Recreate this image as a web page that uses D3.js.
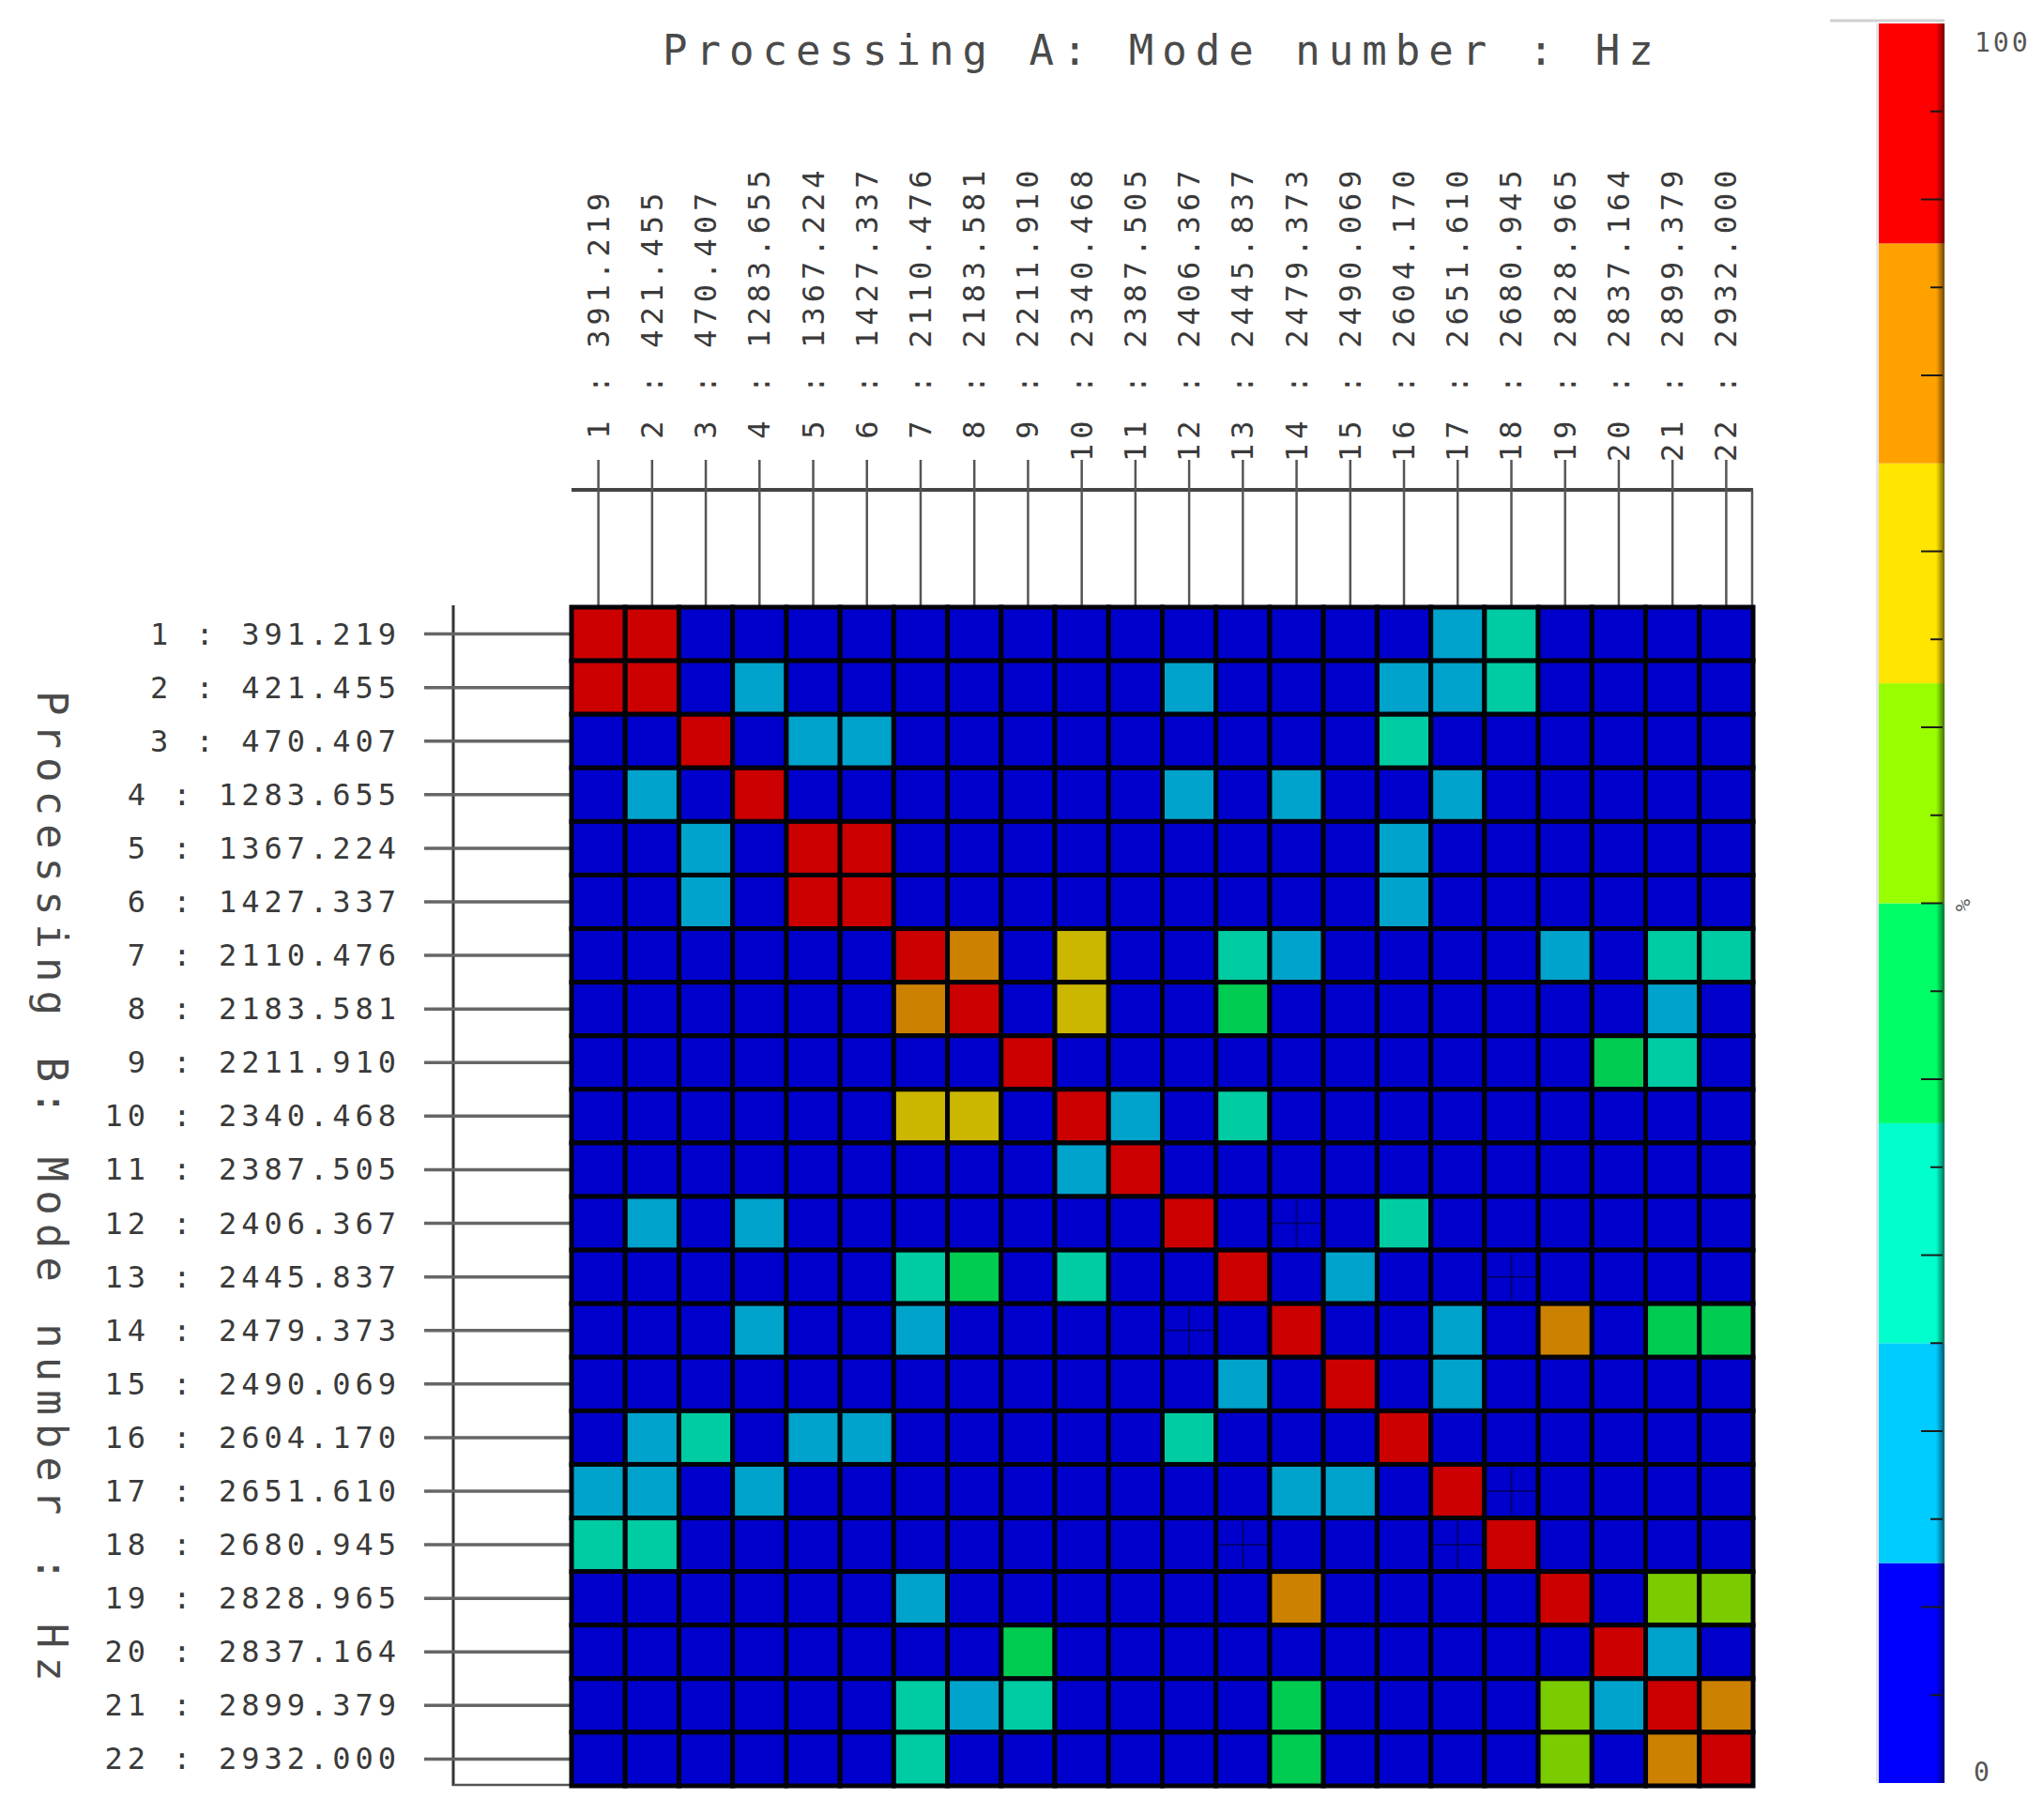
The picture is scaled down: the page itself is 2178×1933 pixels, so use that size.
<!DOCTYPE html>
<html>
<head>
<meta charset="utf-8">
<script src="https://cdn.jsdelivr.net/npm/d3@7"></script>
<style>
  html, body { margin: 0; padding: 0; background: #fff; }
  svg { display: block; }
  text { font-family: "DejaVu Sans Mono", "Liberation Mono", monospace; }
</style>
</head>
<body>
<script>
// ---------------- DATA ----------------
const modesA = [1,2,3,4,5,6,7,8,9,10,11,12,13,14,15,16,17,18,19,20,21,22];
const freqsA = ["391.219","421.455","470.407","1283.655","1367.224","1427.337","2110.476","2183.581","2211.910","2340.468","2387.505","2406.367","2445.837","2479.373","2490.069","2604.170","2651.610","2680.945","2828.965","2837.164","2899.379","2932.000"];
const modesB = [1,2,3,4,5,6,7,8,9,10,11,12,13,14,15,16,17,18,19,20,21,22];
const freqsB = ["391.219","421.455","470.407","1283.655","1367.224","1427.337","2110.476","2183.581","2211.910","2340.468","2387.505","2406.367","2445.837","2479.373","2490.069","2604.170","2651.610","2680.945","2828.965","2837.164","2899.379","2932.000"];

// MAC values (%) : rows = Processing B modes, columns = Processing A modes
const macValues = [
  [100,96,2,2,2,2,2,2,2,2,2,2,2,2,2,2,20,32,2,2,2,2],
  [96,100,2,20,2,2,2,2,2,2,2,20,2,2,2,20,20,32,2,2,2,2],
  [2,2,100,2,20,20,2,2,2,2,2,2,2,2,2,32,2,2,2,2,2,2],
  [2,20,2,100,2,2,2,2,2,2,2,20,2,20,2,2,20,2,2,2,2,2],
  [2,2,20,2,100,96,2,2,2,2,2,2,2,2,2,20,2,2,2,2,2,2],
  [2,2,20,2,96,100,2,2,2,2,2,2,2,2,2,20,2,2,2,2,2,2],
  [2,2,2,2,2,2,100,80,2,70,2,2,32,20,2,2,2,2,20,2,32,32],
  [2,2,2,2,2,2,80,100,2,70,2,2,45,2,2,2,2,2,2,2,20,2],
  [2,2,2,2,2,2,2,2,100,2,2,2,2,2,2,2,2,2,2,45,32,2],
  [2,2,2,2,2,2,70,70,2,100,20,2,32,2,2,2,2,2,2,2,2,2],
  [2,2,2,2,2,2,2,2,2,20,100,2,2,2,2,2,2,2,2,2,2,2],
  [2,20,2,20,2,2,2,2,2,2,2,100,2,6,2,32,2,2,2,2,2,2],
  [2,2,2,2,2,2,32,45,2,32,2,2,100,2,20,2,2,6,2,2,2,2],
  [2,2,2,20,2,2,20,2,2,2,2,6,2,100,2,2,20,2,80,2,45,45],
  [2,2,2,2,2,2,2,2,2,2,2,2,20,2,100,2,20,2,2,2,2,2],
  [2,20,32,2,20,20,2,2,2,2,2,32,2,2,2,100,2,2,2,2,2,2],
  [20,20,2,20,2,2,2,2,2,2,2,2,2,20,20,2,100,6,2,2,2,2],
  [32,32,2,2,2,2,2,2,2,2,2,2,6,2,2,2,6,100,2,2,2,2],
  [2,2,2,2,2,2,20,2,2,2,2,2,2,80,2,2,2,2,100,2,57,57],
  [2,2,2,2,2,2,2,2,45,2,2,2,2,2,2,2,2,2,2,100,20,2],
  [2,2,2,2,2,2,32,20,32,2,2,2,2,45,2,2,2,2,57,20,100,80],
  [2,2,2,2,2,2,32,2,2,2,2,2,2,45,2,2,2,2,57,2,80,100]
];
// cells showing a faint "+" subdivision: [rowMode, colMode]
const crossCells = [[12,14],[13,18],[14,12],[17,18],[18,13],[18,17]];

const bandColors = ["#0000ff","#00ccff","#00ffcc","#00ff66","#99ff00","#ffe500","#ffa200","#ff0000"];
const colorbarTicks = [5,10,15,20,25,30,35,40,45,50,55,60,65,70,80,85,90,95];
const colorbarLabels = [{v:100, t:"100"},{v:0, t:"0"}];

const titleA = "Processing A: Mode number : Hz";
const titleB = "Processing B: Mode number : Hz";

// ---------------- DRAW ----------------
const W = 2178, H = 1933;
const svg = d3.select("body").append("svg").attr("width", W).attr("height", H);

const x = d3.scaleBand().domain(modesA).range([609, 1868]);
const y = d3.scaleBand().domain(modesB).range([647, 1903]);
const bw = x.bandwidth(), bh = y.bandwidth();

const bandScale = d3.scaleQuantize().domain([0, 100]).range(bandColors);
const cellColor = v => {
  const c = d3.rgb(bandScale(v));
  return d3.rgb(c.r * 0.8, c.g * 0.8, c.b * 0.8).formatHex();
};

// axis lines
const axisG = svg.append("g");
axisG.append("line").attr("x1", x.range()[0]).attr("x2", x.range()[1])
  .attr("y1", 522).attr("y2", 522).attr("stroke", "#444").attr("stroke-width", 4);
axisG.append("line").attr("x1", x.range()[1] - 1).attr("x2", x.range()[1] - 1)
  .attr("y1", 522).attr("y2", y.range()[0]).attr("stroke", "#555").attr("stroke-width", 2.5);
axisG.selectAll(".ctick").data(modesA).join("line")
  .attr("x1", d => x(d) + bw / 2).attr("x2", d => x(d) + bw / 2)
  .attr("y1", 490).attr("y2", y.range()[0])
  .attr("stroke", "#555").attr("stroke-width", 2.5);
axisG.append("line").attr("x1", 483).attr("x2", 483)
  .attr("y1", 645).attr("y2", y.range()[1]).attr("stroke", "#333").attr("stroke-width", 3);
axisG.append("line").attr("x1", 483).attr("x2", x.range()[0])
  .attr("y1", y.range()[1] - 1).attr("y2", y.range()[1] - 1).attr("stroke", "#555").attr("stroke-width", 2.5);
axisG.selectAll(".rtick").data(modesB).join("line")
  .attr("x1", 452).attr("x2", x.range()[0])
  .attr("y1", d => y(d) + bh / 2).attr("y2", d => y(d) + bh / 2)
  .attr("stroke", "#666").attr("stroke-width", 3.5);

// cells
const cells = [];
macValues.forEach((row, i) => row.forEach((v, j) => cells.push({r: modesB[i], c: modesA[j], v})));
svg.append("g").selectAll("rect").data(cells).join("rect")
  .attr("x", d => x(d.c)).attr("y", d => y(d.r))
  .attr("width", bw).attr("height", bh)
  .attr("fill", d => cellColor(d.v))
  .attr("stroke", "#03030a").attr("stroke-width", 5);

// faint cross marks
const crossG = svg.append("g").attr("stroke", "#000030").attr("stroke-opacity", 0.55).attr("stroke-width", 2);
crossCells.forEach(([r, c]) => {
  crossG.append("line").attr("x1", x(c) + bw / 2).attr("x2", x(c) + bw / 2)
    .attr("y1", y(r) + 3).attr("y2", y(r) + bh - 3);
  crossG.append("line").attr("x1", x(c) + 3).attr("x2", x(c) + bw - 3)
    .attr("y1", y(r) + bh / 2).attr("y2", y(r) + bh / 2);
});

// labels
const LS = 5, FS = 32;
svg.append("g").selectAll("text").data(modesA).join("text")
  .attr("transform", d => `translate(${x(d) + bw / 2},492) rotate(-90)`)
  .attr("text-anchor", "start")
  .attr("dominant-baseline", "central")
  .style("white-space", "pre")
  .attr("font-size", FS).attr("letter-spacing", LS).attr("fill", "#3a3a3a")
  .text((d, i) => String(d).padStart(2, " ") + " : " + freqsA[i]);

svg.append("g").selectAll("text").data(modesB).join("text")
  .attr("x", 422 + LS).attr("y", d => y(d) + bh / 2)
  .attr("text-anchor", "end")
  .attr("dominant-baseline", "central")
  .style("white-space", "pre")
  .attr("font-size", FS).attr("letter-spacing", LS).attr("fill", "#3a3a3a")
  .text((d, i) => String(d) + " : " + freqsB[i]);

// titles
svg.append("text").attr("x", 706).attr("y", 69)
  .attr("font-size", 44).attr("letter-spacing", 9).attr("fill", "#4a4a4a")
  .text(titleA);
svg.append("text").attr("transform", "translate(40,736) rotate(90)")
  .attr("font-size", 44).attr("letter-spacing", 9).attr("fill", "#4a4a4a")
  .text(titleB);

// ---------------- COLORBAR ----------------
const cbX0 = 2002, cbX1 = 2072;
const cy = d3.scaleLinear().domain([0, 100]).range([1900, 25]);
const cb = svg.append("g");
cb.append("line").attr("x1", 1950).attr("x2", cbX1).attr("y1", 22).attr("y2", 22)
  .attr("stroke", "#d0d0d0").attr("stroke-width", 3);
const bandEdges = d3.range(bandColors.length).map(i => [i * 100 / bandColors.length, (i + 1) * 100 / bandColors.length]);
cb.selectAll("rect.band").data(bandEdges).join("rect")
  .attr("x", cbX0).attr("width", cbX1 - cbX0)
  .attr("y", d => cy(d[1])).attr("height", d => cy(d[0]) - cy(d[1]))
  .attr("fill", (d, i) => bandColors[i]);
const defs = svg.append("defs");
const grad = defs.append("linearGradient").attr("id", "edge").attr("x1", "0").attr("x2", "1").attr("y1", "0").attr("y2", "0");
grad.append("stop").attr("offset", "0").attr("stop-color", "#000").attr("stop-opacity", 0);
grad.append("stop").attr("offset", "1").attr("stop-color", "#000").attr("stop-opacity", 0.55);
cb.append("rect").attr("x", cbX1 - 9).attr("width", 9).attr("y", cy(100)).attr("height", cy(0) - cy(100))
  .attr("fill", "url(#edge)");
cb.append("rect").attr("x", cbX0 - 3).attr("width", 3).attr("y", cy(100)).attr("height", cy(0) - cy(100))
  .attr("fill", "#e4e4ee");
cb.selectAll("line.tick").data(colorbarTicks).join("line")
  .attr("x1", d => cbX1 - (d % 10 === 0 ? 25 : 15)).attr("x2", cbX1 - 2)
  .attr("y1", d => cy(d)).attr("y2", d => cy(d))
  .attr("stroke", "#1a1a1a").attr("stroke-width", 2);
cb.selectAll("text.lab").data(colorbarLabels).join("text")
  .attr("x", d => d.v === 100 ? 2104 : 2103)
  .attr("y", d => cy(d.v) + (d.v === 100 ? 30 : -2))
  .attr("font-size", 28).attr("letter-spacing", 3).attr("fill", "#555")
  .text(d => d.t);
cb.append("text").attr("transform", `translate(2084,${cy(50) + 2}) rotate(90)`)
  .attr("text-anchor", "middle").attr("font-size", 22).attr("fill", "#666")
  .text("%");
</script>
</body>
</html>
